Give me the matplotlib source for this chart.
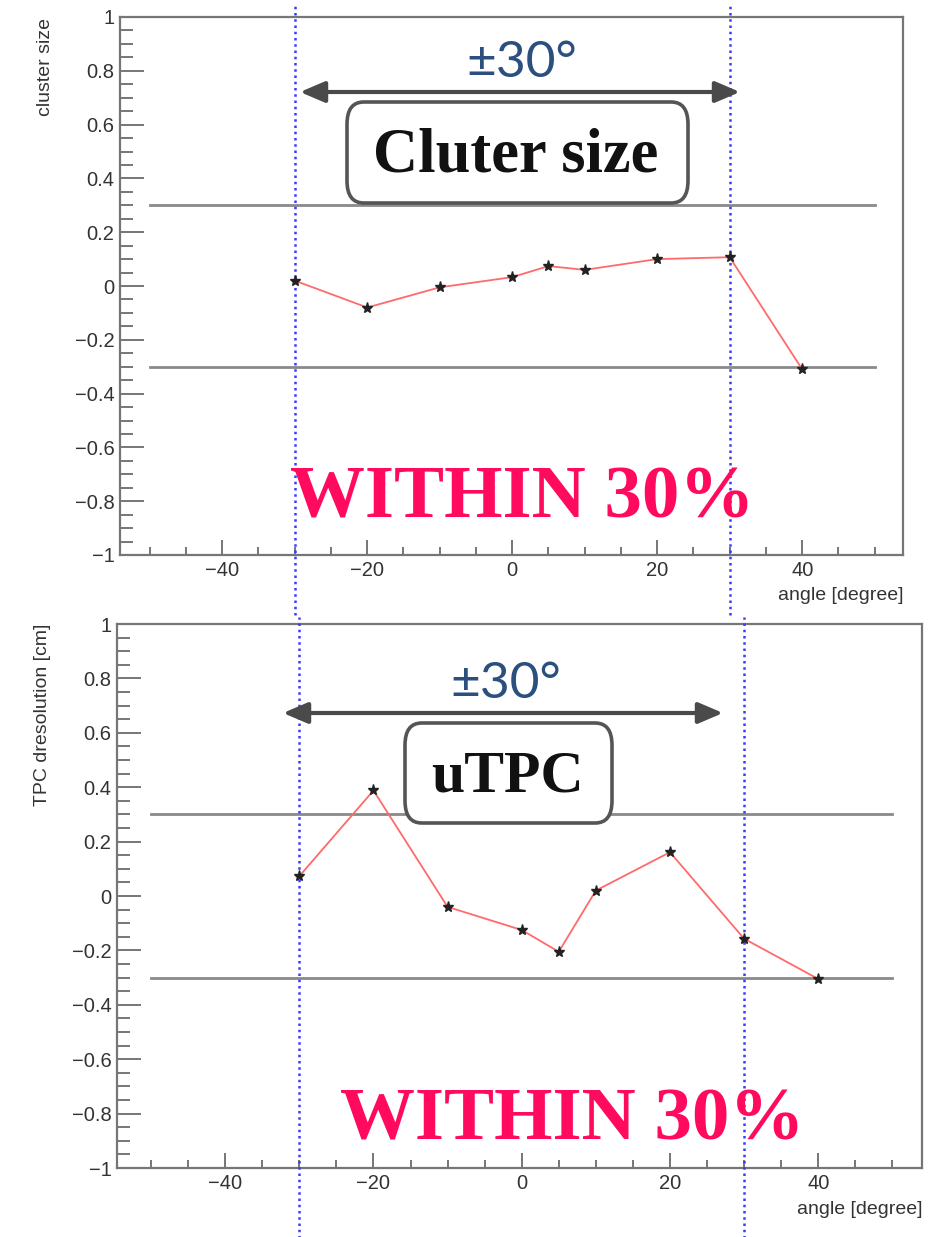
import matplotlib
matplotlib.use("Agg")
import matplotlib.pyplot as plt
from matplotlib.patches import FancyBboxPatch
from matplotlib.ticker import FixedLocator, FixedFormatter, MultipleLocator

# ---------------- data ----------------
angles_cluster = [-30, -20, -10, 0, 5, 10, 20, 30, 40]
cluster_size = [0.02, -0.08, -0.005, 0.033, 0.074, 0.06, 0.10, 0.107, -0.31]

angles_utpc = [-30, -20, -10, 0, 5, 10, 20, 30, 40]
utpc_dres = [0.073, 0.388, -0.04, -0.125, -0.205, 0.02, 0.161, -0.157, -0.305]

band_limits = [0.3, -0.3]
band_x = [-50, 50]
angle_limits = [-30, 30]

yticks = [1.0, 0.8, 0.6, 0.4, 0.2, 0.0, -0.2, -0.4, -0.6, -0.8, -1.0]
ytick_labels = ["1", "0.8", "0.6", "0.4", "0.2", "0", "\u22120.2", "\u22120.4",
                "\u22120.6", "\u22120.8", "\u22121"]
xticks = [-40, -20, 0, 20, 40]
xtick_labels = ["\u221240", "\u221220", "0", "20", "40"]

W, H = 930, 1237
fig = plt.figure(figsize=(W / 100, H / 100), dpi=100)


def fx(x):
    return x / W


def fy(y):
    return 1 - y / H


SANS = ["Liberation Sans", "DejaVu Sans"]
SERIF = ["Liberation Serif", "DejaVu Serif"]
AXC = "#767676"


def make_axes(rect, xlim, ylabel, ylabel_x, ylabel_top, xlabel_right, xlabel_y,
              xs, ys, blue_ymin, blue_ymax):
    ax = fig.add_axes(rect)
    ax.set_xlim(*xlim)
    ax.set_ylim(-1, 1)
    for s in ax.spines.values():
        s.set_color(AXC)
        s.set_linewidth(1.6)
    ax.yaxis.set_major_locator(FixedLocator(yticks))
    ax.yaxis.set_major_formatter(FixedFormatter(ytick_labels))
    ax.yaxis.set_minor_locator(MultipleLocator(0.05))
    ax.xaxis.set_major_locator(FixedLocator(xticks))
    ax.xaxis.set_major_formatter(FixedFormatter(xtick_labels))
    ax.xaxis.set_minor_locator(MultipleLocator(5))
    ax.tick_params(axis="y", which="major", direction="in", length=17, width=1.4,
                   color=AXC, labelsize=14.5, labelcolor="#333333", pad=4,
                   right=False)
    ax.tick_params(axis="y", which="minor", direction="in", length=9, width=1.4,
                   color=AXC, right=False)
    ax.tick_params(axis="x", which="major", direction="in", length=11, width=1.4,
                   color=AXC, labelsize=14.5, labelcolor="#333333", pad=4,
                   top=False)
    ax.tick_params(axis="x", which="minor", direction="in", length=6, width=1.4,
                   color=AXC, top=False)
    for lab in ax.get_xticklabels() + ax.get_yticklabels():
        lab.set_fontfamily(SANS)

    # horizontal limit lines
    for b in band_limits:
        ax.plot(band_x, [b, b], color="#8a8a8a", lw=2.0, zorder=2)

    # blue dotted lines
    for a in angle_limits:
        ax.axvline(a, ymin=blue_ymin, ymax=blue_ymax, color="#3b3bff",
                   ls=(0, (1.0, 1.5)), lw=1.8, clip_on=False, zorder=3)

    ax.plot(xs, ys, color="#ff6a6a", lw=1.3, zorder=4)
    ax.plot(xs, ys, ls="none", marker="*", ms=8, color="#222222", zorder=5)

    fig.text(fx(ylabel_x), fy(ylabel_top), ylabel, rotation=90, ha="center",
             va="top", fontsize=14, color="#333333", family=SANS)
    fig.text(fx(xlabel_right), fy(xlabel_y), "angle [degree]", ha="right",
             va="center", fontsize=14, color="#333333", family=SANS)
    return ax


ax1 = make_axes([fx(120), fy(555), 783 / W, 538 / H], (-54.1, 53.9),
                "cluster size", 45, 18, 903, 595,
                angles_cluster, cluster_size, -0.112, 1.024)
ax2 = make_axes([fx(117), fy(1168), 805 / W, 544 / H], (-54.6, 54.0),
                "TPC dresolution [cm]", 43, 624, 922, 1210,
                angles_utpc, utpc_dres, -0.128, 1.012)


def arrow(x0, x1, y):
    fig.add_artist(matplotlib.patches.FancyArrowPatch(
        (fx(x0), fy(y)), (fx(x1), fy(y)), transform=fig.transFigure,
        arrowstyle="<|-|>,head_length=0.75,head_width=0.32", mutation_scale=20,
        color="#4a4a4a", lw=3.0, shrinkA=0, shrinkB=0))


def box(x0, y0, x1, y1):
    fig.add_artist(FancyBboxPatch(
        (fx(x0), fy(y1)), fx(x1) - fx(x0), fy(y0) - fy(y1),
        boxstyle="round,pad=0,rounding_size=0.018", transform=fig.transFigure,
        facecolor="white", edgecolor="#555555", lw=2.6, mutation_aspect=H / W * 0.75))


# top panel annotations
fig.text(fx(522), fy(77), "\u00b130\u00b0", ha="center", va="baseline",
         fontsize=37, color="#2b4f7e", family=["Lato", "DejaVu Sans"])
arrow(300, 740, 92)
box(347, 102, 688, 203)
fig.text(fx(515.5), fy(172), "Cluter size", ha="center", va="baseline",
         fontsize=45, fontweight="bold", color="#111111", family=SERIF)
fig.text(fx(522), fy(518), "WITHIN 30%", ha="center", va="baseline",
         fontsize=54, fontweight="bold", color="#ff0a5e", family=SERIF)

# bottom panel annotations
fig.text(fx(506), fy(698), "\u00b130\u00b0", ha="center", va="baseline",
         fontsize=37, color="#2b4f7e", family=["Lato", "DejaVu Sans"])
arrow(283, 723, 713)
box(405, 723, 612, 823)
fig.text(fx(507), fy(792), "uTPC", ha="center", va="baseline",
         fontsize=43, fontweight="bold", color="#111111", family=SERIF)
fig.text(fx(572), fy(1140), "WITHIN 30%", ha="center", va="baseline",
         fontsize=54, fontweight="bold", color="#ff0a5e", family=SERIF)

fig.savefig("out.png", dpi=100, facecolor="white")
